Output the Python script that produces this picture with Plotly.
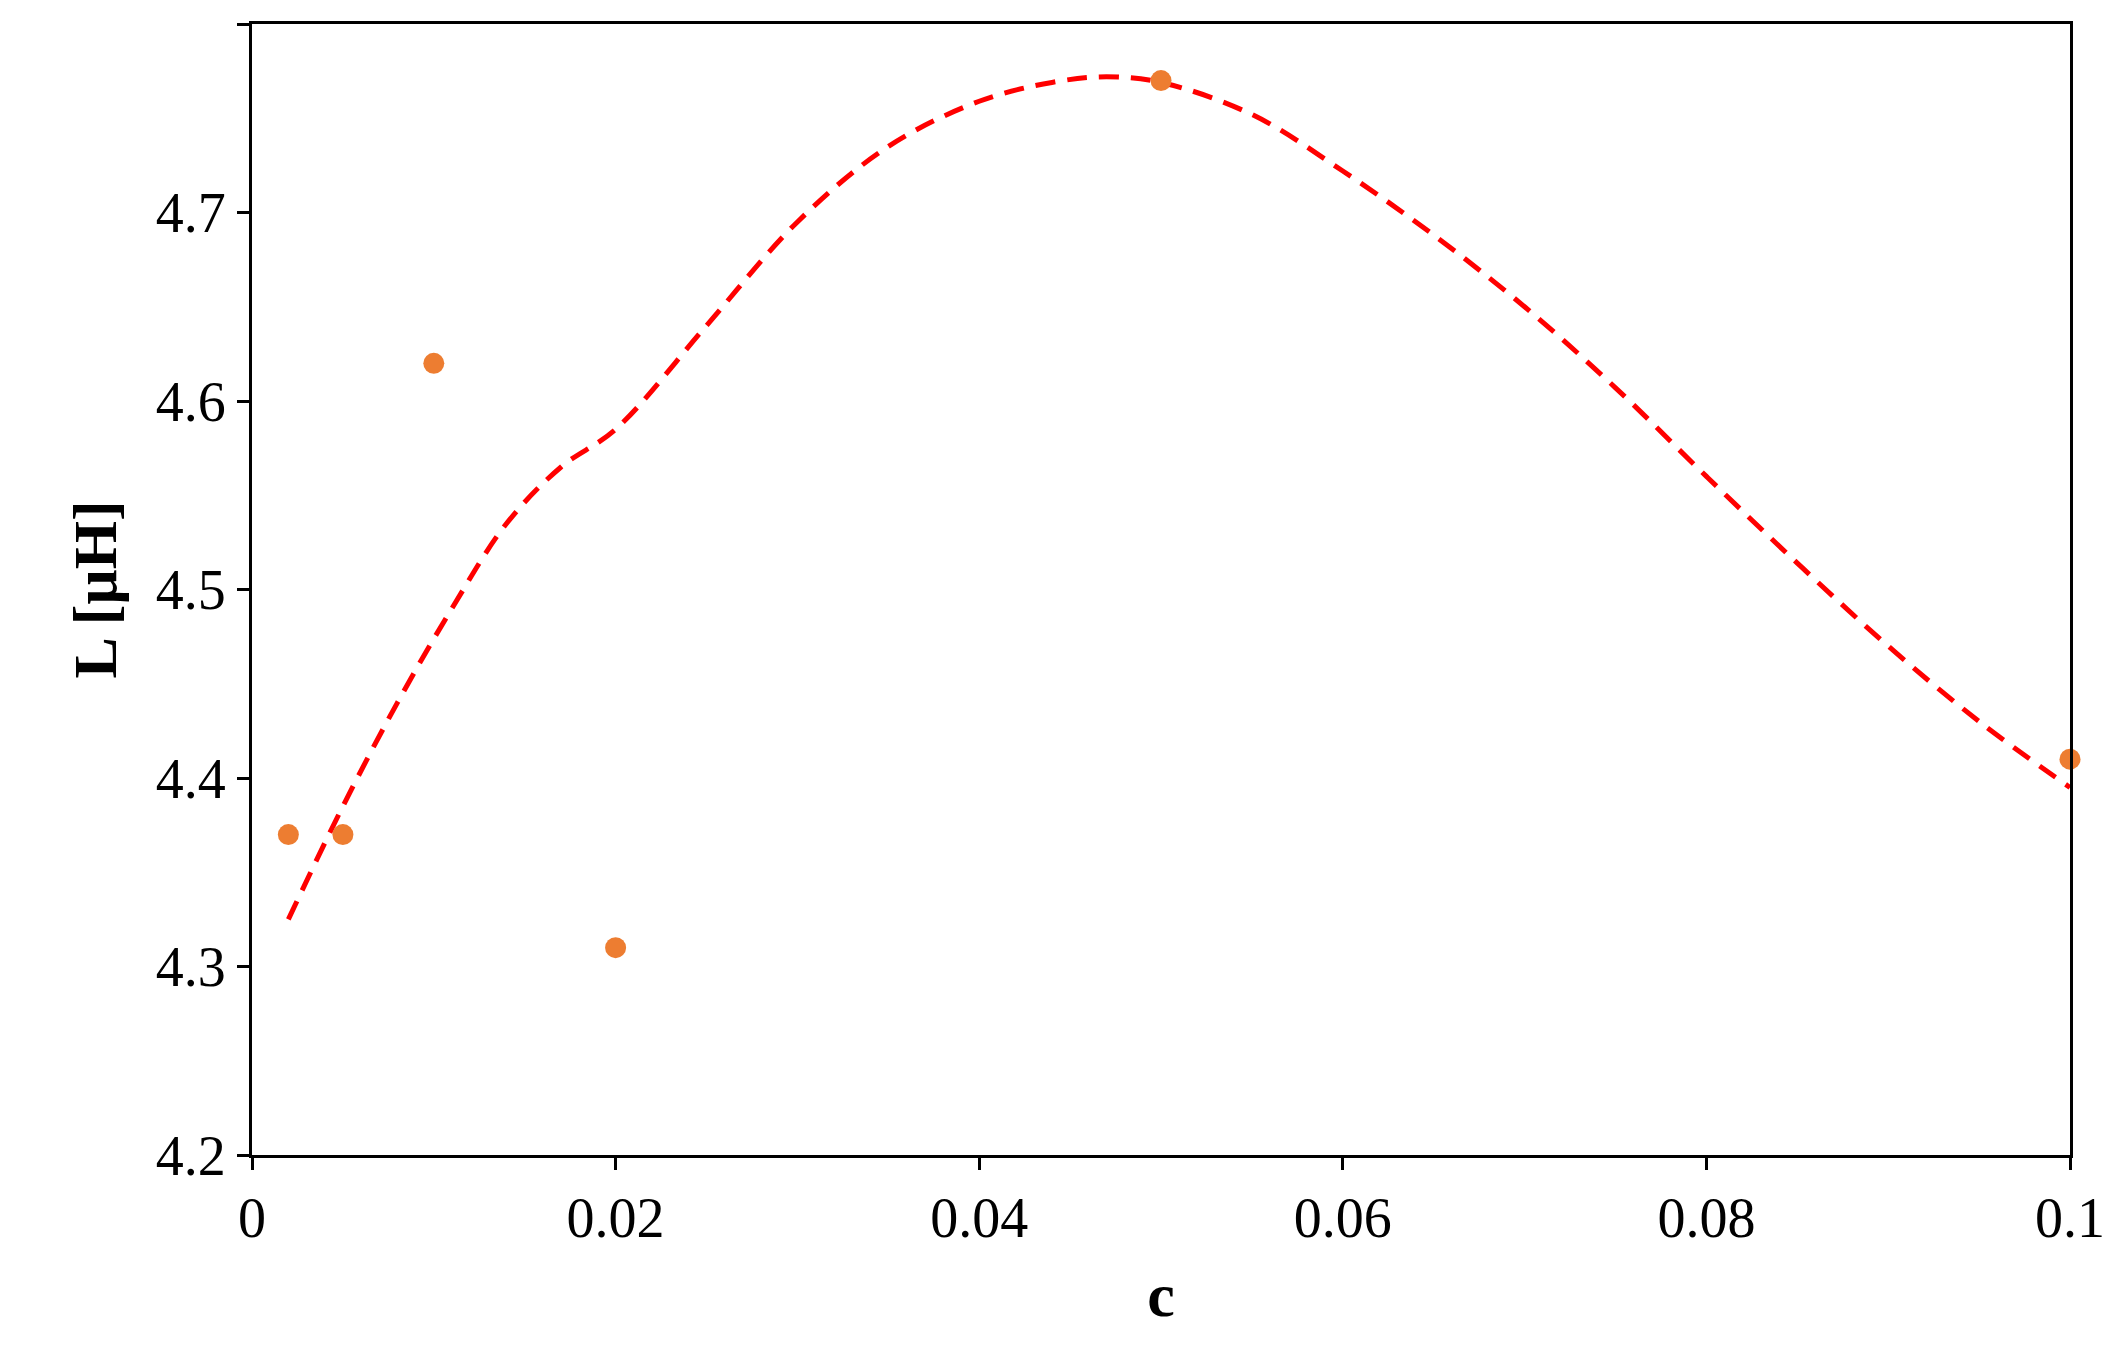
import plotly.graph_objects as go

c_data = [0.002, 0.005, 0.01, 0.02, 0.05, 0.1]
L_data = [4.37, 4.37, 4.62, 4.31, 4.77, 4.41]

c_fit = [0.002, 0.005, 0.008, 0.011, 0.014, 0.017, 0.02, 0.025, 0.03, 0.035, 0.04, 0.044, 0.047, 0.05, 0.055, 0.06, 0.065, 0.07, 0.075, 0.08, 0.085, 0.09, 0.095, 0.1]
L_fit = [4.325, 4.385, 4.44, 4.49, 4.535, 4.565, 4.585, 4.64, 4.695, 4.735, 4.759, 4.769, 4.772, 4.769, 4.752, 4.722, 4.688, 4.65, 4.607, 4.56, 4.514, 4.47, 4.43, 4.395]

fig = go.Figure()
fig.add_trace(go.Scatter(x=c_fit, y=L_fit, mode="lines", line=dict(color="#ff0000", width=5, dash="20px,12px", shape="spline"), showlegend=False))
fig.add_trace(go.Scatter(x=c_data, y=L_data, mode="markers", marker=dict(color="#ed7d31", size=21), showlegend=False, cliponaxis=False))

font = "Liberation Serif, Times New Roman, serif"
axis = dict(showgrid=False, zeroline=False, showline=True, linecolor="black", linewidth=3, mirror=True,
            ticks="outside", ticklen=12, tickwidth=3, tickcolor="black",
            tickfont=dict(family=font, size=56, color="black"))
fig.update_xaxes(range=[0, 0.1], dtick=0.02, tickformat="~g",
                 title=dict(text="<b>c</b>", font=dict(family=font, size=62, color="black"), standoff=25), **axis)
fig.update_yaxes(range=[4.2, 4.8], dtick=0.1, tickformat=".1f",
                 title=dict(text="<b>L [μH]</b>", font=dict(family=font, size=62, color="black"), standoff=20), **axis)
fig.update_layout(width=2117, height=1356, plot_bgcolor="white", paper_bgcolor="white",
                  margin=dict(l=244, r=55, t=16, b=209))
fig.write_html("out.html")
